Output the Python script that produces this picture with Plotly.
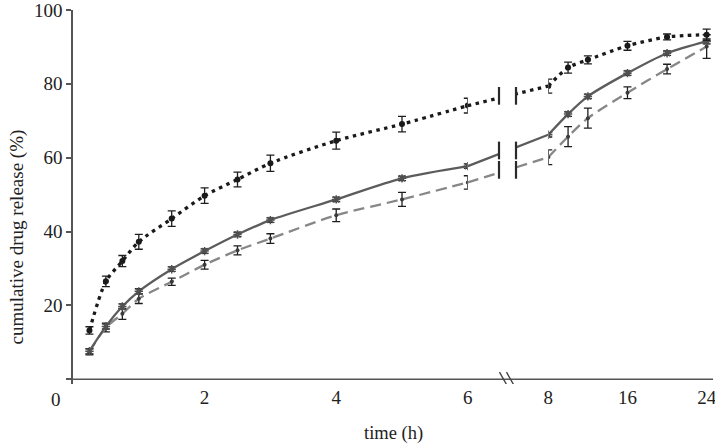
import plotly.graph_objects as go

# sampling times (h), the axis is broken between 6 h and 8 h
t_early = [0.25, 0.5, 0.75, 1, 1.5, 2, 2.5, 3, 4, 5, 6]
t_late = [8, 10, 12, 16, 20, 24]

# cumulative release (%)
dotted_early = [13.2, 26.5, 32.0, 37.2, 43.5, 49.7, 54.1, 58.5, 64.6, 69.1, 74.1]
dotted_late = [79.4, 84.4, 86.5, 90.3, 92.7, 93.3]
dotted_err_early = [1.0, 1.4, 1.5, 2.0, 2.1, 2.1, 2.0, 2.2, 2.3, 2.1, 2.0]
dotted_err_late = [1.9, 1.5, 1.1, 1.2, 0.8, 1.5]

solid_early = [7.6, 14.3, 19.7, 23.8, 29.8, 34.7, 39.2, 43.1, 48.7, 54.4, 57.7]
solid_late = [66.2, 71.8, 76.6, 82.9, 88.3, 91.5]
solid_err_early = [0.7, 0.7, 0.7, 0.7, 0.6, 0.6, 0.6, 0.6, 0.6, 0.6, 0.6]
solid_err_late = [0.6, 0.6, 0.6, 0.6, 0.6, 0.7]

dashed_early = [7.4, 14.0, 17.7, 21.8, 26.4, 31.0, 34.9, 38.1, 44.4, 48.7, 53.3]
dashed_late = [60.1, 65.7, 70.7, 77.6, 84.0, 90.1]
dashed_err_early = [0.8, 1.2, 1.5, 1.3, 1.0, 1.2, 1.2, 1.3, 1.7, 1.9, 1.8]
dashed_err_late = [2.0, 2.7, 2.7, 1.6, 1.3, 3.2]

y_ticks = [0, 20, 40, 60, 80, 100]
x_ticks_left = [2, 4, 6]
x_ticks_right = [8, 16, 24]

W, H = 715, 444
ml, mr, mt, mb = 73, 2, 10, 60
pw = W - ml - mr

x1_dom = [0, (499 - ml) / pw]
x1_rng = [0, 6.474]
x2_dom = [(516 - ml) / pw, 1]
x2_rng = [4.74, 24.64]


def to_paper(t, dom, rng):
    return dom[0] + (t - rng[0]) / (rng[1] - rng[0]) * (dom[1] - dom[0])


# bridge axis joins the 6 h point (left part) with the 8 h point (right part)
x3_dom = [to_paper(t_early[-1], x1_dom, x1_rng), to_paper(t_late[0], x2_dom, x2_rng)]
x3_rng = [t_early[-1], t_late[0]]

FONT = "Liberation Serif, Times New Roman, serif"
ERR_COL = "#1e1e1e"

series = [
    dict(name="dashed", early=dashed_early, late=dashed_late,
         e_early=dashed_err_early, e_late=dashed_err_late,
         line=dict(color="#878787", width=2.3, dash="11px,6px"),
         marker=dict(symbol="circle", size=4, color="#3a3a3a")),
    dict(name="solid", early=solid_early, late=solid_late,
         e_early=solid_err_early, e_late=solid_err_late,
         line=dict(color="#5c5c5c", width=2.3),
         marker=dict(symbol="asterisk-open", size=7, color="#505050",
                     line=dict(color="#505050", width=1.5))),
    dict(name="dotted", early=dotted_early, late=dotted_late,
         e_early=dotted_err_early, e_late=dotted_err_late,
         line=dict(color="#1a1a1a", width=3.3, dash="3.5px,4.5px"),
         marker=dict(symbol="circle", size=6, color="#1a1a1a")),
]

fig = go.Figure()

for s in series:
    fig.add_trace(go.Scatter(
        x=t_early, y=s["early"], xaxis="x", yaxis="y", mode="lines+markers",
        line=dict(s["line"], shape="spline", smoothing=0.8), marker=s["marker"],
        error_y=dict(type="data", array=s["e_early"], color=ERR_COL, thickness=1.3, width=4),
        showlegend=False, name=s["name"]))
    fig.add_trace(go.Scatter(
        x=t_late, y=s["late"], xaxis="x2", yaxis="y", mode="lines+markers",
        line=dict(s["line"], shape="spline", smoothing=0.8), marker=s["marker"],
        error_y=dict(type="data", array=s["e_late"], color=ERR_COL, thickness=1.3, width=4),
        showlegend=False, name=s["name"]))
    fig.add_trace(go.Scatter(
        x=[t_early[-1], t_late[0]], y=[s["early"][-1], s["late"][0]],
        xaxis="x3", yaxis="y", mode="lines", line=s["line"],
        showlegend=False, hoverinfo="skip"))

shapes = []
# white gap of the break
shapes.append(dict(type="rect", xref="paper", yref="y", x0=x1_dom[1], x1=x2_dom[0],
                   y0=5, y1=100, fillcolor="white", line=dict(width=0), layer="above"))
# vertical break marks at the cut on each line
for s in series:
    mid = (s["early"][-1] + s["late"][0]) / 2
    for xp in (x1_dom[1], x2_dom[0]):
        shapes.append(dict(type="line", xref="paper", yref="y", x0=xp, x1=xp,
                           y0=mid - 2.4, y1=mid + 2.4,
                           line=dict(color="#2a2a2a", width=2.2), layer="above"))
# x axis line
shapes.append(dict(type="line", xref="paper", yref="y", x0=-0.008, x1=1, y0=0, y1=0,
                   line=dict(color="#555555", width=1.5)))
# the break symbol on the x axis
xb = (x1_dom[1] + x2_dom[0]) / 2
for off in (-4, 3):
    shapes.append(dict(type="line", xref="paper", yref="y",
                       x0=xb + (off - 4) / pw, x1=xb + (off + 4) / pw, y0=1.9, y1=-1.9,
                       line=dict(color="#444444", width=1.4), layer="above"))

axis_x_common = dict(showgrid=False, zeroline=False, showline=False, ticks="",
                     automargin=False, ticklabeloverflow="allow",
                     tickfont=dict(family=FONT, size=19, color="#222222"), anchor="y")

fig.update_layout(
    width=W, height=H,
    margin=dict(l=ml, r=mr, t=mt, b=mb),
    paper_bgcolor="white", plot_bgcolor="white",
    font=dict(family=FONT, color="#222222"),
    xaxis=dict(axis_x_common, domain=x1_dom, range=x1_rng,
               tickmode="array", tickvals=x_ticks_left),
    xaxis2=dict(axis_x_common, domain=x2_dom, range=x2_rng,
                tickmode="array", tickvals=x_ticks_right),
    xaxis3=dict(domain=x3_dom, range=x3_rng, visible=False, anchor="y"),
    yaxis=dict(range=[-1.3, 100], domain=[0, 1], anchor="x",
               automargin=False, ticklabeloverflow="allow",
               showgrid=False, zeroline=False, showline=True,
               linecolor="#555555", linewidth=1.5,
               ticks="outside", ticklen=5, tickcolor="#555555", tickwidth=1.5,
               tickmode="array", tickvals=y_ticks,
               ticktext=[""] + [str(v) for v in y_ticks[1:]],
               tickfont=dict(family=FONT, size=19, color="#222222")),
    shapes=shapes,
    annotations=[
        dict(text="0", xref="x", yref="paper", x=0, y=0, xshift=-17, yshift=-3,
             xanchor="center", yanchor="top", showarrow=False,
             font=dict(family=FONT, size=19, color="#222222")),
        dict(text="time (h)", xref="paper", yref="paper", x=0.5, y=0, yshift=-37,
             xanchor="center", yanchor="top", showarrow=False,
             font=dict(family=FONT, size=18.5, color="#222222")),
        dict(text="cumulative drug release (%)", xref="paper", yref="paper",
             x=(17 - ml) / pw, y=0.392, xanchor="center", yanchor="middle",
             textangle=-90, showarrow=False,
             font=dict(family=FONT, size=19, color="#222222")),
    ],
)

# drop the page's default body margin so the figure sits at the window corner
fig.write_html("out.html", config={"displayModeBar": False},
               post_script="document.body.style.margin='0';")
